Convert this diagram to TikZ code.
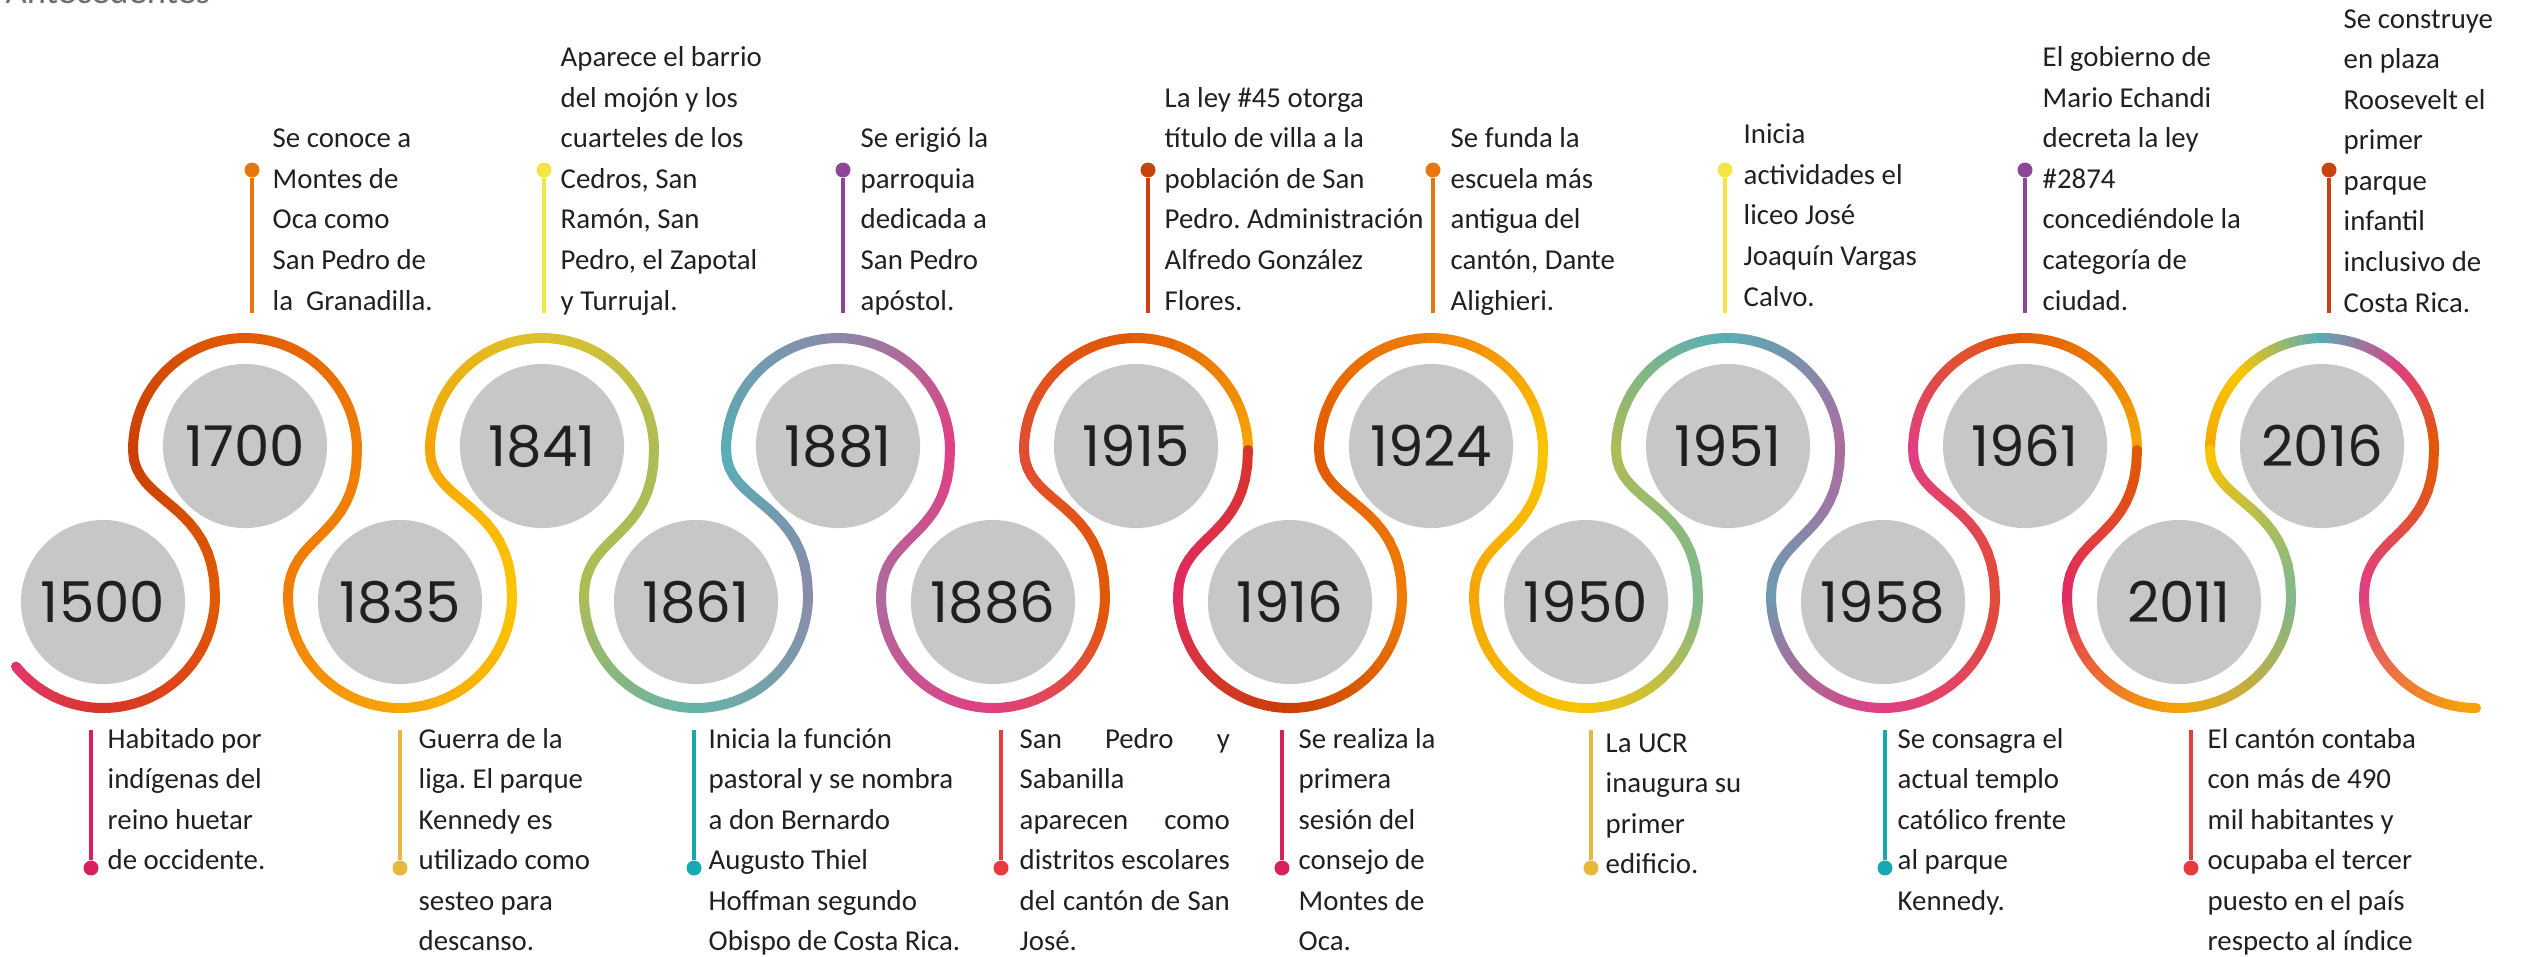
\documentclass[tikz,border=0pt]{standalone}
\usepackage{fontspec}
\setmainfont{Carlito}
\newfontfamily\fuenteanio{Poppins}
\usepackage{tikz}
\frenchspacing

% 颜色
\definecolor{gris}{HTML}{C6C7C6}
\definecolor{tinta}{HTML}{231F20}
\definecolor{titulo}{HTML}{6D6E71}
\definecolor{rosa}{HTML}{E2366F}
\definecolor{carmin}{HTML}{E12B62}
\definecolor{rojo}{HTML}{D8352A}
\definecolor{rojizo}{HTML}{E24C36}
\definecolor{teja}{HTML}{C93F06}
\definecolor{naranjaosc}{HTML}{E15A02}
\definecolor{naranja}{HTML}{F07E05}
\definecolor{ambar}{HTML}{F6A504}
\definecolor{oro}{HTML}{FBC500}
\definecolor{mostaza}{HTML}{DDC22C}
\definecolor{lima}{HTML}{AEBC55}
\definecolor{verde}{HTML}{7FB890}
\definecolor{verdeazul}{HTML}{66B3A8}
\definecolor{turquesa}{HTML}{57AEB6}
\definecolor{pizarra}{HTML}{8A8BA9}
\definecolor{azul}{HTML}{6D9BAF}
\definecolor{malva}{HTML}{AC6C9F}
\definecolor{fucsia}{HTML}{E03F84}
\definecolor{mnaranja}{HTML}{E8760F}
\definecolor{mamarillo}{HTML}{F4E546}
\definecolor{mmorado}{HTML}{8D4796}
\definecolor{mteja}{HTML}{C8430F}
\definecolor{mcarmin}{HTML}{DA1F5E}
\definecolor{mmostaza}{HTML}{E6B83C}
\definecolor{mturquesa}{HTML}{16A9B1}
\definecolor{mrojo}{HTML}{E93B3F}

% 彩带上的一段圆弧（渐变）
\newcommand\garc[6]{%
  \foreach \k in {0,...,11}{%
    \pgfmathsetmacro\angA{#3+(#4-#3)*\k/12}%
    \pgfmathsetmacro\angB{#3+(#4-#3)*(\k+1)/12}%
    \pgfmathtruncatemacro\mezcla{100-100*(\k+0.5)/12}%
    \draw[cinta, color=#5!\mezcla!#6] (#1,#2) ++(\angA:112) arc[start angle=\angA, end angle=\angB, radius=112];
  }}

% 彩带上的一段曲线（渐变）
\newcommand\gcurva[8]{%
  \path (#1,#2) .. controls (#1,#3) and (#4,#5) .. (#4,#6)
    \foreach \k in {0,...,16}{coordinate[pos=\k/16] (q\k)};
  \foreach \k in {0,...,15}{%
    \pgfmathtruncatemacro\sig{\k+1}%
    \pgfmathtruncatemacro\mezcla{100-100*(\k+0.5)/16}%
    \draw[cinta, color=#7!\mezcla!#8] (q\k) -- (q\sig);
  }}

% 文字块
\newcommand\arriba[1]{\vbox{\halign{##\hfil\cr#1\crcr}}}
\newcommand\abajo[1]{\vtop{\halign{##\hfil\cr#1\crcr}}}

\begin{document}
\begin{tikzpicture}[x=0.01cm, y=-0.01cm,
    cinta/.style={line width=1mm, line cap=round},
    anio/.style={circle, fill=gris, minimum size=1.64cm, inner sep=0pt,
      font=\fuenteanio\fontsize{16}{19}\selectfont, text=tinta},
    texto/.style={anchor=base west, inner sep=0pt,
      font=\fontsize{8.2}{11.52}\selectfont, text=tinta},
    punto/.style={circle, minimum size=1.5mm, inner sep=0pt},
    palito/.style={line width=0.45mm}]

  \useasboundingbox (0,0) rectangle (2521,956);

  % 标题
  \node[anchor=base west, inner sep=0pt, font=\fontsize{10.4}{12}\selectfont, text=titulo] (titulo) at (5,3) {Antecedentes};

  % 绘制 彩带：下方圆弧
  \garc{103}{596}{141}{90}{rosa}{rojo}
  \garc{103}{596}{90}{0}{rojo}{naranjaosc}
  \foreach \x/\ca/\cb/\cc in {400/naranja/ambar/oro, 696/lima/verdeazul/pizarra,
      993/malva/fucsia/naranjaosc, 1290/carmin/teja/naranja, 1586/ambar/oro/verde,
      1883/azul/fucsia/rojizo, 2179/carmin/ambar/verde}{
    \garc{\x}{596}{180}{90}{\ca}{\cb}
    \garc{\x}{596}{90}{0}{\cb}{\cc}
  }
  \garc{2476}{596}{180}{90}{fucsia}{ambar}

  % 绘制 彩带：上方圆弧
  \foreach \x/\ca/\cb/\cc in {245/teja/naranjaosc/naranja, 542/ambar/mostaza/lima,
      838/turquesa/pizarra/fucsia, 1136/rojizo/naranjaosc/ambar,
      1431/naranjaosc/naranja/oro, 1728/lima/turquesa/malva,
      2025/fucsia/naranjaosc/ambar}{
    \garc{\x}{450}{180}{270}{\ca}{\cb}
    \garc{\x}{450}{270}{360}{\cb}{\cc}
  }
  \garc{2322}{450}{180}{225}{ambar}{oro}
  \garc{2322}{450}{225}{270}{oro}{turquesa}
  \garc{2322}{450}{270}{315}{turquesa}{fucsia}
  \garc{2322}{450}{315}{360}{fucsia}{naranjaosc}

  % 绘制 彩带：上升与下降的连接
  \foreach \xa/\xb/\ca/\cb in {215/133/naranjaosc/teja, 512/430/oro/ambar,
      808/726/pizarra/turquesa, 1105/1024/naranjaosc/rojizo,
      1402/1319/naranja/naranjaosc, 1698/1616/verde/lima,
      1995/1913/rojizo/fucsia, 2291/2210/verde/oro}{
    \gcurva{\xa}{596}{501}{\xb}{505}{450}{\ca}{\cb}
  }
  \foreach \xa/\xb/\ca/\cb in {357/288/naranja/naranja, 654/584/lima/lima,
      950/881/fucsia/malva, 1248/1178/rojo/carmin, 1543/1474/oro/ambar,
      1840/1771/malva/azul, 2137/2067/naranjaosc/carmin,
      2434/2364/naranjaosc/fucsia}{
    \gcurva{\xa}{450}{540}{\xb}{533}{596}{\ca}{\cb}
  }

  % 绘制 年份圆
  \node[anio] (a1500) at (103,602) {1500};
  \node[anio] (a1700) at (245,446) {1700};
  \node[anio] (a1835) at (400,602) {1835};
  \node[anio] (a1841) at (542,446) {1841};
  \node[anio] (a1861) at (696,602) {1861};
  \node[anio] (a1881) at (838,446) {1881};
  \node[anio] (a1886) at (993,602) {1886};
  \node[anio] (a1915) at (1136,446) {1915};
  \node[anio] (a1916) at (1290,602) {1916};
  \node[anio] (a1924) at (1431,446) {1924};
  \node[anio] (a1950) at (1586,602) {1950};
  \node[anio] (a1951) at (1728,446) {1951};
  \node[anio] (a1958) at (1883,602) {1958};
  \node[anio] (a1961) at (2025,446) {1961};
  \node[anio] (a2011) at (2179,602) {2011};
  \node[anio] (a2016) at (2322,446) {2016};

  % 绘制 标记线
  \foreach \x/\col [count=\i] in {252/mnaranja, 544/mamarillo, 843/mmorado, 1148/mteja,
      1433/mnaranja, 1725/mamarillo, 2025/mmorado, 2329/mteja}{
    \node[punto, fill=\col] (du\i) at (\x,170) {};
    \coordinate (su\i) at (\x,313);
    \draw[palito, color=\col] (du\i) -- (su\i);
  }
  \foreach \x/\col [count=\i] in {91/mcarmin, 400/mmostaza, 694/mturquesa, 1001/mrojo,
      1282/mcarmin, 1591/mmostaza, 1885/mturquesa, 2191/mrojo}{
    \node[punto, fill=\col] (dl\i) at (\x,868) {};
    \coordinate (sl\i) at (\x,730);
    \draw[palito, color=\col] (sl\i) -- (dl\i);
  }

  % 添加文字：上方
  \node[texto] (t1700) at (272,310) {\arriba{Se conoce a\cr Montes de\cr Oca como\cr San Pedro de\cr la~ Granadilla.}};
  \node[texto] (t1841) at (560,310) {\arriba{Aparece el barrio\cr del mojón y los\cr cuarteles de los\cr Cedros, San\cr Ramón, San\cr Pedro, el Zapotal\cr y Turrujal.}};
  \node[texto] (t1881) at (860,310) {\arriba{Se erigió la\cr parroquia\cr dedicada a\cr San Pedro\cr apóstol.}};
  \node[texto] (t1915) at (1164,310) {\arriba{La ley \#45 otorga\cr título de villa a la\cr población de San\cr Pedro. Administración\cr Alfredo González\cr Flores.}};
  \node[texto] (t1924) at (1450,310) {\arriba{Se funda la\cr escuela más\cr antigua del\cr cantón, Dante\cr Alighieri.}};
  \node[texto] (t1951) at (1743,306) {\arriba{Inicia\cr actividades el\cr liceo José\cr Joaquín Vargas\cr Calvo.}};
  \node[texto] (t1961) at (2042,310) {\arriba{El gobierno de\cr Mario Echandi\cr decreta la ley\cr \#2874\cr concediéndole la\cr categoría de\cr ciudad.}};
  \node[texto] (t2016) at (2343,312) {\arriba{Se construye\cr en plaza\cr Roosevelt el\cr primer\cr parque\cr infantil\cr inclusivo de\cr Costa Rica.}};

  % 添加文字：下方
  \node[texto] (t1500) at (107,748) {\abajo{Habitado por\cr indígenas del\cr reino huetar\cr de occidente.}};
  \node[texto] (t1835) at (418,748) {\abajo{Guerra de la\cr liga. El parque\cr Kennedy es\cr utilizado como\cr sesteo para\cr descanso.}};
  \node[texto] (t1861) at (708,748) {\abajo{Inicia la función\cr pastoral y se nombra\cr a don Bernardo\cr Augusto Thiel\cr Hoffman segundo\cr Obispo de Costa Rica.}};
  \node[texto] (t1886) at (1019,748) {\abajo{\makebox[2.1cm][s]{San Pedro y}\cr Sabanilla\cr \makebox[2.1cm][s]{aparecen como}\cr \makebox[2.1cm][s]{distritos escolares}\cr \makebox[2.1cm][s]{del cantón de San}\cr José.}};
  \node[texto] (t1916) at (1298,748) {\abajo{Se realiza la\cr primera\cr sesión del\cr consejo de\cr Montes de\cr Oca.}};
  \node[texto] (t1950) at (1605,752) {\abajo{La UCR\cr inaugura su\cr primer\cr edificio.}};
  \node[texto] (t1958) at (1897,748) {\abajo{Se consagra el\cr actual templo\cr católico frente\cr al parque\cr Kennedy.}};
  \node[texto] (t2011) at (2207,748) {\abajo{El cantón contaba\cr con más de 490\cr mil habitantes y\cr ocupaba el tercer\cr puesto en el país\cr respecto al índice}};
\end{tikzpicture}
\end{document}
